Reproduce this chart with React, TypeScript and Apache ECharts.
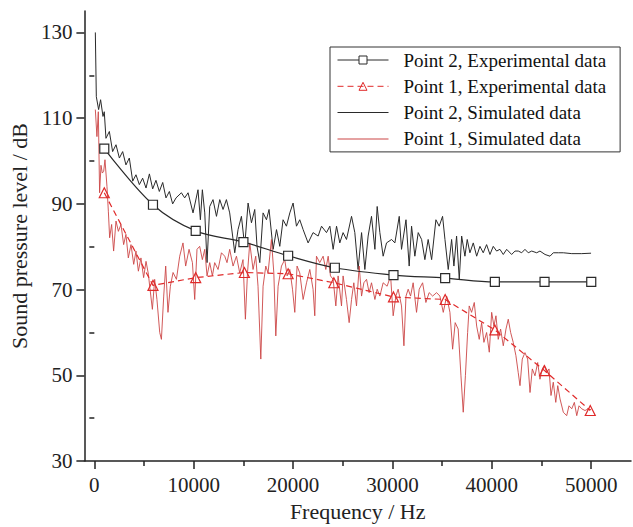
import React, { useEffect, useRef } from "react";
import * as echarts from "echarts";

// ---- axis ticks ----
const xTickValues = [0, 10000, 20000, 30000, 40000, 50000];
const xMinorTicks = [5000, 15000, 25000, 35000, 45000];
const yTickValues = [30, 50, 70, 90, 110, 130];
const yMinorTicks = [40, 60, 80, 100, 120];

// ---- legend names ----
const nameExp2 = "Point 2, Experimental data";
const nameExp1 = "Point 1, Experimental data";
const nameSim2 = "Point 2, Simulated data";
const nameSim1 = "Point 1, Simulated data";

// ---- experimental data ----
const exp2Freq = [1000, 5900, 10200, 15000, 19500, 24200, 30100, 35300, 40300, 45300, 50000];
const exp2Level = [102.9, 89.8, 83.7, 81.1, 77.9, 75.1, 73.4, 72.7, 71.8, 71.8, 71.8];
const exp1Freq = [1000, 5900, 10200, 15100, 19500, 24100, 30100, 35300, 40300, 45300, 49900];
const exp1Level = [92.6, 71.0, 72.8, 74.0, 73.7, 71.6, 68.3, 67.7, 60.6, 51.1, 41.8];

// ---- simulated data [frequency, level] ----
const sim2 = [
  [100, 130], [200, 115], [430, 112], [630, 114.3], [870, 110.4], [1000, 111.5], [1170, 105.3],
  [1510, 106.9], [1840, 102.2], [2180, 103.8], [2520, 100.7], [2850, 102.2], [3180, 99.1],
  [3520, 100.7], [3860, 95.3], [4190, 96.8], [4530, 94.5], [4860, 96], [5200, 93.7], [5540, 97],
  [5870, 93.5], [6200, 95.5], [6540, 92.9], [6880, 95], [7210, 91.4], [7550, 92.9], [7880, 90],
  [8220, 91.4], [8760, 92.6], [9090, 91.4], [9430, 92.6], [9930, 87.9], [10430, 93.3],
  [10670, 86.3], [10870, 93.3], [11110, 87.9], [11340, 76.3], [11610, 89.4], [11940, 91],
  [12290, 87.1], [12620, 91], [12950, 88.7], [13290, 91], [13620, 87.9], [14130, 78.6],
  [14460, 84], [14800, 87.1], [15130, 80.1], [15470, 90.2], [15810, 85.6], [16140, 88.7],
  [16370, 80.1], [16650, 76.3], [16980, 87.9], [17320, 86.3], [17580, 88.7], [17990, 79.4],
  [18330, 84], [18660, 80.1], [18990, 86.3], [19330, 84.8], [19670, 87.9], [20000, 90.2],
  [20340, 84.8], [20670, 86.3], [21010, 84], [21510, 80.9], [22010, 83.3], [22520, 82.5],
  [22860, 84.8], [23360, 83.3], [23700, 84.8], [24030, 79.4], [24370, 84.8], [24700, 80.9],
  [25030, 83.3], [25370, 81.7], [25880, 87.1], [26210, 83.3], [26540, 74.7], [26890, 83.3],
  [27220, 74.7], [27550, 82.5], [27890, 87.1], [28230, 79.4], [28460, 89.4], [28730, 83.3],
  [29060, 77.8], [29400, 80.9], [29910, 81.7], [30240, 80.9], [30680, 87.1], [30910, 79.4],
  [31360, 86.3], [31680, 75.5], [31920, 84.8], [32250, 77.8], [32590, 83.3], [32930, 81.7],
  [33260, 77], [33590, 81.7], [33940, 77], [34370, 86.3], [34700, 84.8], [35040, 87.1],
  [35280, 81.7], [35610, 74.7], [35950, 81.7], [36180, 75.5], [36450, 82.5], [36720, 72.4],
  [36960, 82.5], [37290, 77.8], [37520, 81.7], [37790, 78.6], [38130, 80.9], [38470, 77.8],
  [38800, 80.1], [39130, 78.6], [39470, 80.5], [39810, 78.2], [40140, 80.1], [40480, 79],
  [40810, 79.4], [41150, 78.2], [41490, 79.4], [41990, 78.2], [42330, 79], [42660, 79],
  [43000, 78.6], [43330, 79.4], [43660, 78.6], [44010, 79], [44510, 78.6], [44840, 79],
  [45350, 78.2], [45850, 77.8], [46180, 78.6], [46690, 78.6], [47190, 78.6], [48040, 78.4],
  [49040, 78.4], [49980, 78.5],
];

const sim1 = [
  [100, 112], [260, 105.7], [400, 111.5], [530, 92.6], [670, 99], [800, 97.2], [940, 97.6],
  [1070, 100.3], [1270, 94.1], [1410, 88.3], [1540, 82.1], [1740, 85.2], [1940, 79], [2180, 86],
  [2420, 83.6], [2680, 85.2], [2950, 80.5], [3180, 82.9], [3420, 77.4], [3690, 80.5],
  [3960, 75.9], [4190, 79], [4430, 74.3], [4690, 77.4], [4960, 72.8], [5200, 76.6],
  [5440, 73.6], [5570, 70.8], [5840, 65.4], [6070, 72.4], [6300, 67.7], [6580, 60],
  [6750, 58.4], [6980, 68.5], [7180, 75.5], [7410, 64.7], [7650, 70.8], [7920, 74],
  [8260, 72.4], [8590, 77.8], [8920, 80.9], [9190, 75.5], [9530, 79.4], [9870, 76.3],
  [10100, 67.7], [10330, 79.4], [10600, 80.1], [10870, 77], [11110, 79.4], [11340, 73.2],
  [11610, 76.3], [11880, 73.2], [12110, 76.3], [12450, 74.7], [12790, 78.6], [13120, 77.8],
  [13350, 76.3], [13620, 79.4], [13960, 75.5], [14300, 77.8], [14630, 73.9], [14960, 77],
  [15200, 63.1], [15410, 73.9], [15640, 80.9], [15970, 74.7], [16240, 77.8], [16470, 70.8],
  [16750, 53.8], [16980, 70.8], [17250, 75.5], [17480, 73.9], [17820, 81.7], [18060, 73.9],
  [18260, 59.2], [18490, 70.8], [18830, 75.5], [19160, 77], [19400, 73.2], [19670, 74.7],
  [19940, 70.1], [20170, 64.7], [20400, 75.5], [20670, 73.9], [21010, 67.7], [21350, 71.6],
  [21680, 74.7], [22010, 70.1], [22180, 63.9], [22350, 77.8], [22680, 76.3], [23020, 77.8],
  [23290, 74.7], [23530, 77.8], [23760, 73.2], [24030, 72.4], [24300, 66.2], [24530, 73.2],
  [24870, 66.2], [25030, 73.2], [25370, 67.7], [25640, 62.3], [25880, 67.7], [26110, 71.6],
  [26380, 66.2], [26650, 75.5], [26890, 68.5], [27120, 71.6], [27390, 72.4], [27650, 69.3],
  [27890, 71.6], [28230, 67.7], [28460, 70.1], [28730, 68.5], [29060, 71.6], [29460, 70.8],
  [29810, 73.2], [30070, 63.9], [30340, 68.5], [30570, 70.1], [30910, 66.2], [31150, 56.9],
  [31360, 68.5], [31580, 70.1], [31820, 68.5], [32080, 71.6], [32420, 64.7], [32690, 70.1],
  [33030, 71.6], [33360, 67], [33690, 69.3], [34040, 68.5], [34440, 69.3], [34770, 68.5],
  [35110, 64.7], [35450, 68.5], [35780, 64.7], [36050, 56.1], [36310, 62.3], [36610, 60.8],
  [36890, 49.9], [37120, 41.4], [37340, 50], [37560, 60], [37720, 66.2], [37960, 64.7],
  [38230, 67], [38470, 61.5], [38730, 58.4], [38970, 62.3], [39200, 57.7], [39470, 60],
  [39740, 55.4], [39980, 64.7], [40210, 61.5], [40410, 63.9], [40640, 58.4], [40880, 60.8],
  [41150, 56.9], [41420, 60.8], [41650, 63.1], [41890, 60], [42150, 57.7], [42420, 54.6],
  [42650, 50.7], [42830, 47.6], [43060, 53.8], [43330, 55.3], [43600, 53.8], [43840, 46],
  [44070, 51.5], [44340, 49.9], [44610, 53], [44840, 49.1], [45070, 51.5], [45270, 52.3],
  [45520, 50.7], [45750, 51.5], [45950, 45.3], [46180, 48.4], [46430, 43.7], [46630, 47.6],
  [46860, 44.5], [47190, 41.4], [47530, 40.6], [47760, 42.9], [48040, 42.2], [48300, 43.7],
  [48540, 40.6], [48770, 42.9], [49040, 42.2], [49370, 41.8], [49710, 42.2], [49980, 42],
];

const FONT = "'Liberation Serif', 'DejaVu Serif', serif";
const AXIS_COLOR = "#222";
const BLACK = "#2a2a2a";
const RED_SIM = "#cc4646";
const RED_EXP = "#e02a2a";
const LINE_ICON = "path://M0,0H51V1H0Z";

export default function App() {
  const ref = useRef<HTMLDivElement>(null);

  useEffect(() => {
    if (!ref.current) return;
    const chart = echarts.init(ref.current, undefined, { renderer: "svg" });
    const zip = (xs: number[], ys: number[]) => xs.map((x, i) => [x, ys[i]]);
    const plain = (v: number) => String(v);

    const option: any = {
      animation: false,
      backgroundColor: "#fff",
      grid: { left: 84, right: 2, top: 11, bottom: 65, containLabel: false },
      legend: {
        orient: "vertical",
        left: 330,
        top: 47,
        itemWidth: 51,
        itemHeight: 10,
        itemGap: 6.3,
        padding: [3, 14, 3, 7],
        borderColor: "#333",
        borderWidth: 1,
        backgroundColor: "#fff",
        lineStyle: { width: 1 },
        itemStyle: { borderWidth: 1 },
        textStyle: {
          fontFamily: FONT,
          fontSize: 19,
          color: "#111",
          lineHeight: 20,
          padding: [0, 0, 0, 10],
        },
        data: [
          { name: nameExp2 },
          { name: nameExp1 },
          { name: nameSim2, icon: LINE_ICON },
          { name: nameSim1, icon: LINE_ICON },
        ],
      },
      xAxis: [
        {
          type: "value",
          min: -1000,
          max: 54000,
          position: "bottom",
          name: "Frequency / Hz",
          nameLocation: "middle",
          nameGap: 38,
          nameTextStyle: { fontFamily: FONT, fontSize: 22, color: AXIS_COLOR },
          axisLine: { show: true, onZero: false, lineStyle: { color: AXIS_COLOR, width: 1.5 } },
          axisTick: {
            show: true,
            inside: false,
            length: 8,
            customValues: xTickValues,
            lineStyle: { color: AXIS_COLOR, width: 1.5 },
          },
          axisLabel: {
            customValues: xTickValues,
            formatter: plain,
            fontFamily: FONT,
            fontSize: 21,
            color: AXIS_COLOR,
            margin: 13,
          },
          splitLine: { show: false },
        },
        {
          type: "value",
          min: -1000,
          max: 54000,
          position: "bottom",
          axisLine: { show: false },
          axisTick: {
            show: true,
            inside: false,
            length: 5,
            customValues: xMinorTicks,
            lineStyle: { color: AXIS_COLOR, width: 1.5 },
          },
          axisLabel: { show: false },
          splitLine: { show: false },
        },
      ],
      yAxis: [
        {
          type: "value",
          min: 30,
          max: 135,
          position: "left",
          name: "Sound pressure level / dB",
          nameLocation: "middle",
          nameGap: 40,
          nameTextStyle: { fontFamily: FONT, fontSize: 22, color: AXIS_COLOR },
          axisLine: { show: true, onZero: false, lineStyle: { color: AXIS_COLOR, width: 1.5 } },
          axisTick: {
            show: true,
            inside: false,
            length: 8,
            customValues: yTickValues,
            lineStyle: { color: AXIS_COLOR, width: 1.5 },
          },
          axisLabel: {
            customValues: yTickValues,
            formatter: plain,
            fontFamily: FONT,
            fontSize: 21,
            color: AXIS_COLOR,
            margin: 12,
          },
          splitLine: { show: false },
        },
        {
          type: "value",
          min: 30,
          max: 135,
          position: "left",
          axisLine: { show: false },
          axisTick: {
            show: true,
            inside: false,
            length: 5,
            customValues: yMinorTicks,
            lineStyle: { color: AXIS_COLOR, width: 1.5 },
          },
          axisLabel: { show: false },
          splitLine: { show: false },
        },
      ],
      series: [
        {
          name: nameSim2,
          type: "line",
          data: sim2,
          symbol: "none",
          lineStyle: { color: BLACK, width: 1 },
          itemStyle: { color: BLACK },
          z: 2,
        },
        {
          name: nameSim1,
          type: "line",
          data: sim1,
          symbol: "none",
          lineStyle: { color: RED_SIM, width: 0.9 },
          itemStyle: { color: RED_SIM },
          z: 2,
        },
        {
          name: nameExp2,
          type: "line",
          data: zip(exp2Freq, exp2Level),
          smooth: 0.35,
          symbol: "rect",
          symbolSize: 9,
          lineStyle: { color: BLACK, width: 1.2 },
          itemStyle: { color: "#fff", borderColor: BLACK, borderWidth: 1.2 },
          z: 4,
        },
        {
          name: nameExp1,
          type: "line",
          data: zip(exp1Freq, exp1Level),
          symbol: "triangle",
          symbolSize: 10,
          lineStyle: { color: RED_EXP, width: 1.2, type: [6, 4] },
          itemStyle: { color: "rgba(255,255,255,0)", borderColor: RED_EXP, borderWidth: 1.2 },
          z: 4,
        },
      ],
    };

    chart.setOption(option);
    return () => chart.dispose();
  }, []);

  return (
    <div
      ref={ref}
      style={{ position: "fixed", left: 0, top: 0, width: 633, height: 527, background: "#fff" }}
    />
  );
}
